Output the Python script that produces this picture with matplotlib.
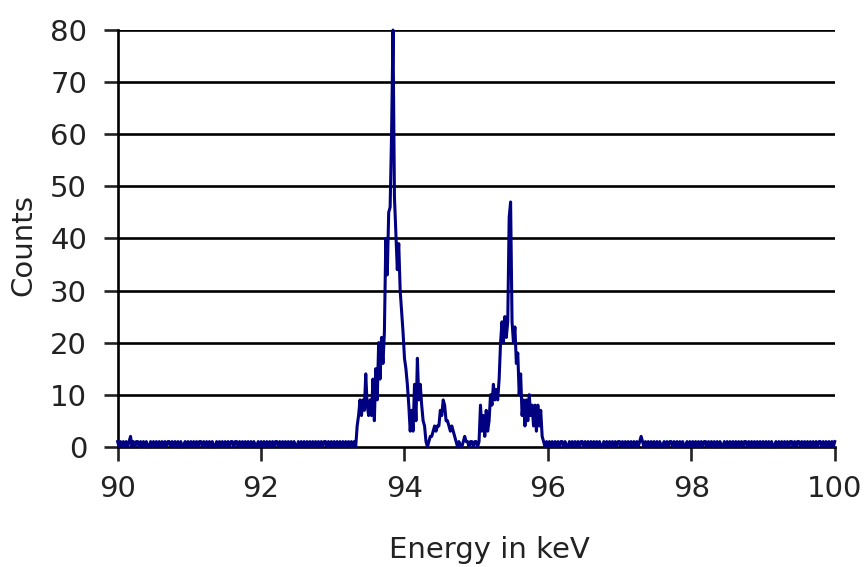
import matplotlib.pyplot as plt
import numpy as np

plt.rcParams['font.family'] = ['DejaVu Sans']

###############################################################################
## Data (counts per 0.02 keV channel)
###############################################################################
bin_width = 0.02

# 90.00 .. 93.28 keV, flat background
low_background = ("1010101012" "0101101010" "1001010101" "0101011010"
                  "1010100101" "0101010110" "1010101001" "0101010101"
                  "1011010101" "0101010010" "1010101010" "1101010101"
                  "0101001010" "1010101010" "1010110101" "0101010101"
                  "01010")

# 93.30 .. 95.98 keV, the two lines
peak_counts = [
    1, 0, 4, 6, 9, 6, 9, 7, 14, 8,            # 93.30
    6, 9, 6, 13, 5, 15, 9, 20, 13, 21,        # 93.50
    16, 22, 40, 33, 45, 46, 60, 80, 48, 41,   # 93.70
    34, 39, 30, 26, 22, 17, 15, 12, 8, 3,     # 93.90
    7, 3, 12, 5, 17, 9, 12, 8, 5, 4,          # 94.10
    1, 0, 1, 2, 2, 3, 4, 3, 4, 4,             # 94.30
    7, 6, 9, 8, 5, 5, 4, 3, 4, 3,             # 94.50
    2, 1, 0, 1, 0, 0, 1, 2, 1, 1,             # 94.70
    0, 1, 1, 0, 1, 1, 0, 1, 8, 3,             # 94.90
    6, 2, 7, 3, 5, 10, 8, 12, 9, 11,          # 95.10
    9, 13, 20, 24, 20, 25, 21, 24, 44, 47,    # 95.30
    24, 20, 23, 16, 18, 10, 14, 6, 9, 4,      # 95.50
    9, 5, 10, 6, 8, 4, 8, 3, 8, 4,            # 95.70
    7, 2, 1, 0, 1,                            # 95.90
]

# 96.00 .. 100.00 keV, flat background
high_background = ("0101010101" "1010010101" "0101101010" "1010101001"
                   "0101010101" "1010101010" "1010121010" "1010101010"
                   "0101011010" "1010100101" "0101010101" "1010101010"
                   "1001010101" "0101010110" "1010101010" "1010101001"
                   "0101010101" "1010110101" "0101010101" "1010101010"
                   "1")

counts = np.array([int(c) for c in low_background] + peak_counts +
                  [int(c) for c in high_background], dtype=float)
energy = 90.0 + bin_width * np.arange(len(counts))

###############################################################################
## Plot
###############################################################################
fig = plt.figure(figsize=(8.65, 5.67), dpi=100)
ax = fig.add_axes([0.136, 0.212, 0.829, 0.735])

ax.plot(energy, counts, color='#000080', lw=2.2, zorder=3, clip_on=False)

ax.set_xlim(90, 100)
ax.set_ylim(0, 80)
ax.set_xticks(np.arange(90, 101, 2))
ax.set_yticks(np.arange(0, 81, 10))

# horizontal grid
for v in range(10, 81, 10):
    ax.axhline(v, color='black', lw=1.9, zorder=1)

for side in ['top', 'right']:
    ax.spines[side].set_visible(False)
for side in ['left', 'bottom']:
    ax.spines[side].set_linewidth(1.9)
    ax.spines[side].set_color('black')

ax.tick_params(axis='both', direction='out', length=10, width=1.9,
               labelsize=21, colors='#222222')
ax.tick_params(axis='x', pad=10)
ax.tick_params(axis='y', pad=12)

ax.set_xlabel('Energy in keV', fontsize=21, color='#222222')
ax.set_ylabel('Counts', fontsize=21, color='#222222')
ax.xaxis.set_label_coords(0.519, -0.215)
ax.yaxis.set_label_coords(-0.112, 0.484)

fig.savefig('out.png', dpi=100, facecolor='white')
